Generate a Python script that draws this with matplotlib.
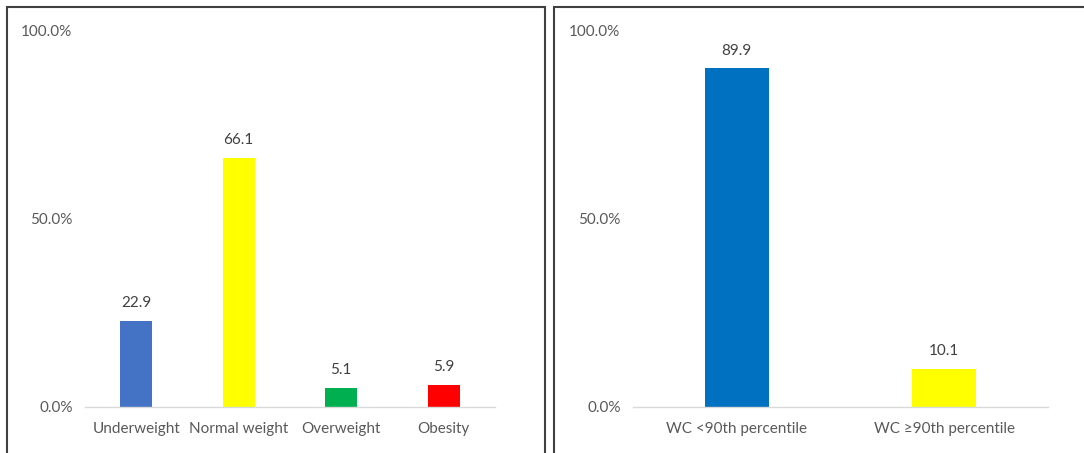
import matplotlib
matplotlib.use("Agg")
import matplotlib.pyplot as plt
from matplotlib.patches import Rectangle
from matplotlib.ticker import FuncFormatter

plt.rcParams['font.family'] = ['Lato', 'DejaVu Sans']

left_cats = ["Underweight", "Normal weight", "Overweight", "Obesity"]
left_vals = [22.9, 66.1, 5.1, 5.9]
left_colors = ["#4472C4", "#FFFF00", "#00B050", "#FF0000"]

right_cats = ["WC <90th percentile", "WC \u226590th percentile"]
right_vals = [89.9, 10.1]
right_colors = ["#0070C0", "#FFFF00"]

W, H = 1084, 453
fig = plt.figure(figsize=(W / 100, H / 100), dpi=100)

# panel borders
for (x0, x1) in [(7, 545), (554, 1095)]:
    fig.patches.append(Rectangle((x0 / W, -0.05), (x1 - x0) / W, (H - 7) / H + 0.05,
                                 transform=fig.transFigure, fill=False,
                                 edgecolor="#404040", linewidth=1.5))

def draw(ax, cats, vals, colors):
    x = list(range(len(cats)))
    ax.bar(x, vals, width=0.31, color=colors)
    ax.set_xlim(-0.5, len(cats) - 0.5)
    ax.set_ylim(0, 100)
    ax.set_yticks([0, 50, 100])
    ax.yaxis.set_major_formatter(FuncFormatter(lambda v, p: f"{v:.1f}%"))
    ax.set_xticks(x)
    ax.set_xticklabels(cats)
    for s in ["top", "right", "left"]:
        ax.spines[s].set_visible(False)
    ax.spines["bottom"].set_color("#D9D9D9")
    ax.spines["bottom"].set_linewidth(1.0)
    ax.tick_params(axis="both", length=0, colors="#595959", labelsize=11)
    ax.tick_params(axis="y", pad=9)
    ax.tick_params(axis="x", pad=10.5)
    for xi, v in zip(x, vals):
        ax.text(xi, v + 2.8, f"{v:.1f}", ha="center", va="bottom",
                fontsize=11, color="#404040")

ax1 = fig.add_axes([85 / W, (H - 407) / H, 410 / W, 377 / H])
draw(ax1, left_cats, left_vals, left_colors)
ax2 = fig.add_axes([633 / W, (H - 407) / H, 415 / W, 377 / H])
draw(ax2, right_cats, right_vals, right_colors)

fig.savefig("out.png", dpi=100)
